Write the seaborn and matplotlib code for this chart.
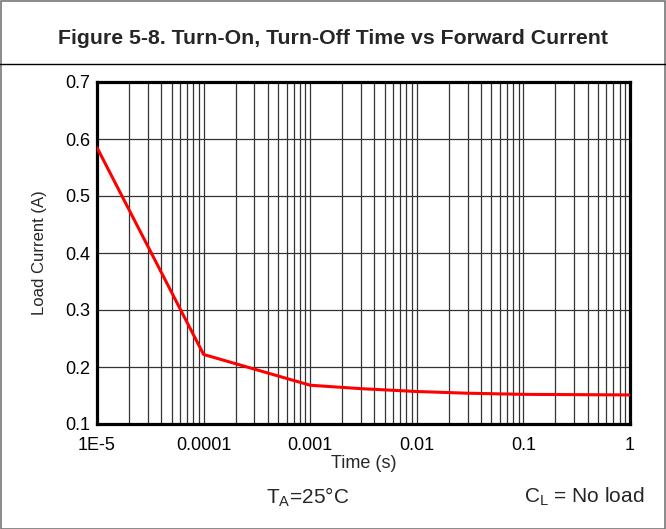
import matplotlib
matplotlib.use("Agg")
import matplotlib.pyplot as plt
import matplotlib.ticker as mticker
import seaborn as sns
import pandas as pd
from matplotlib.patches import Rectangle
from matplotlib.lines import Line2D

# Data
time_s = [1e-5, 1e-4, 1e-3, 3e-3, 1e-2, 3e-2, 1e-1, 1.0]
load_current = [0.585, 0.222, 0.168, 0.162, 0.157, 0.154, 0.152, 0.151]
x_ticks = [1e-5, 1e-4, 1e-3, 1e-2, 1e-1, 1]
x_labels = ["1E-5", "0.0001", "0.001", "0.01", "0.1", "1"]
y_ticks = [0.1, 0.2, 0.3, 0.4, 0.5, 0.6, 0.7]

df = pd.DataFrame({"Time (s)": time_s, "Load Current (A)": load_current})

sns.set_style("white")
plt.rcParams["font.family"] = ["Liberation Sans", "DejaVu Sans"]

fig = plt.figure(figsize=(6.66, 5.29), dpi=100)
W, H = 666, 529
ax = fig.add_axes([97 / W, 1 - 424 / H, (630 - 97) / W, (424 - 82) / H])

sns.lineplot(data=df, x="Time (s)", y="Load Current (A)", ax=ax,
             color="#ff0000", linewidth=2.2, zorder=5)

ax.set_xscale("log")
ax.set_xlim(1e-5, 1)
ax.set_ylim(0.1, 0.7)
ax.set_xticks(x_ticks)
ax.set_xticklabels(x_labels)
ax.xaxis.set_minor_locator(mticker.LogLocator(base=10, subs=range(2, 10), numticks=20))
ax.xaxis.set_minor_formatter(mticker.NullFormatter())
ax.set_yticks(y_ticks)
ax.set_yticklabels([f"{v:.1f}" for v in y_ticks])

ax.grid(True, which="major", axis="both", color="#333333", linewidth=0.9)
ax.grid(True, which="minor", axis="x", color="#333333", linewidth=0.9)
ax.tick_params(axis="both", which="both", length=0, labelsize=13, colors="black")
ax.tick_params(axis="x", pad=9)
ax.tick_params(axis="y", pad=5)

for s in ax.spines.values():
    s.set_visible(True)
    s.set_color("black")
    s.set_linewidth(2.3)

ax.set_xlabel("Time (s)", fontsize=13, labelpad=1)
ax.set_ylabel("Load Current (A)", fontsize=12, labelpad=13)

# Title and frame
fig.text(0.5, 1 - 38 / H, "Figure 5-8. Turn-On, Turn-Off Time vs Forward Current",
         ha="center", va="center", fontsize=15.3, fontweight="bold")
fig.add_artist(Line2D([0, 1], [1 - 64 / H, 1 - 64 / H], transform=fig.transFigure,
                      color="black", linewidth=1.0))
fig.add_artist(Rectangle((0.5 / W, 0.5 / H), 1 - 1.5 / W, 1 - 1.5 / H,
                         transform=fig.transFigure, fill=False,
                         edgecolor="#777777", linewidth=1.2))

fig.text(308 / W, 1 - 497 / H, r"T$_\mathregular{A}$=25°C", ha="center", va="center",
         fontsize=15)
fig.text(644 / W, 1 - 497 / H, r"C$_\mathregular{L}$ = No load", ha="right", va="center",
         fontsize=15)

fig.savefig("out.png", dpi=100)
